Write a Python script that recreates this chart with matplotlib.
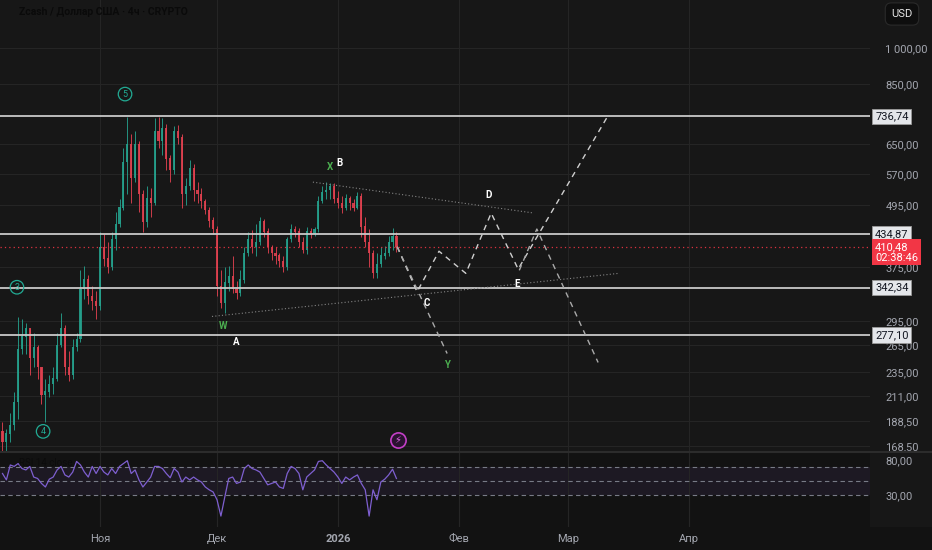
import numpy as np
import pandas as pd
import matplotlib
matplotlib.use('Agg')
import matplotlib.pyplot as plt
import matplotlib.dates as mdates
import matplotlib.transforms as mtransforms
from matplotlib.ticker import FuncFormatter, NullLocator, NullFormatter
from matplotlib.lines import Line2D

plt.rcParams['font.family'] = ['Roboto', 'DejaVu Sans', 'Noto Sans CJK SC']

# ---- data (daily candles, ZEC/USD) ----
first_day = '2025-10-07'
first_open = 180
closes = [172, 178, 185, 205, 260, 275, 285, 250, 262, 240,
          212, 215, 222, 228, 265, 285, 240, 232, 262, 272,
          340, 355, 330, 322, 315, 410, 390, 375, 425, 455,
          490, 600, 650, 560, 650, 520, 460, 510, 500, 690,
          660, 700, 610, 580, 690, 670, 520, 540, 585, 530,
          520, 505, 485, 462, 445, 345, 320, 350, 360, 340,
          335, 355, 400, 425, 410, 420, 460, 440, 410, 400,
          395, 385, 375, 425, 445, 440, 420, 405, 440, 435,
          445, 505, 525, 530, 540, 510, 500, 490, 510, 500,
          490, 515, 450, 420, 400, 365, 380, 395, 400, 420,
          430, 410.48]
highs = [188, 182, 195, 215, 300, 298, 292, 285, 280, 265,
         240, 228, 232, 240, 280, 305, 290, 258, 272, 280,
         370, 378, 362, 345, 338, 440, 435, 420, 440, 480,
         510, 640, 736, 680, 690, 660, 530, 540, 535, 730,
         735, 730, 712, 620, 705, 710, 680, 560, 605, 595,
         550, 535, 510, 492, 470, 452, 370, 375, 378, 395,
         352, 370, 410, 440, 443, 455, 470, 466, 448, 415,
         410, 400, 395, 430, 455, 452, 448, 430, 450, 448,
         450, 515, 540, 550, 548, 546, 528, 515, 520, 515,
         508, 525, 522, 470, 445, 405, 400, 410, 412, 432,
         448, 440]
lows = [163, 165, 172, 181, 190, 255, 255, 232, 240, 228,
        203, 188, 210, 213, 225, 262, 232, 225, 228, 258,
        268, 325, 318, 310, 298, 310, 378, 365, 370, 405,
        450, 485, 520, 500, 550, 480, 440, 450, 470, 495,
        640, 620, 580, 550, 570, 650, 490, 495, 530, 505,
        500, 490, 475, 450, 435, 330, 312, 305, 338, 335,
        325, 330, 350, 395, 400, 395, 415, 430, 400, 388,
        380, 375, 368, 370, 420, 430, 410, 400, 398, 428,
        432, 440, 500, 510, 508, 500, 488, 478, 484, 485,
        482, 486, 430, 410, 375, 357, 358, 375, 390, 395,
        405, 402]
rsi = [61, 52, 73, 71, 75, 68, 66, 71, 56, 54,
       47, 42, 53, 56, 66, 71, 59, 56, 63, 78,
       73, 63, 56, 71, 61, 71, 63, 59, 68, 61,
       71, 75, 79, 61, 66, 52, 42, 49, 56, 71,
       71, 68, 61, 55, 68, 63, 49, 56, 52, 56,
       52, 49, 42, 38, 35, 24, 1, 28, 54, 56,
       47, 49, 68, 73, 68, 66, 63, 54, 45, 47,
       49, 42, 40, 61, 71, 68, 61, 38, 56, 61,
       66, 78, 79, 73, 68, 63, 56, 47, 56, 52,
       56, 59, 47, 38, 1, 38, 24, 49, 53, 59,
       67, 54]

current_price = 410.48
current_timer = '02:38:46'
levels = [736.74, 434.87, 342.34, 277.10]
price_ticks = [168.5, 188.5, 211, 235, 265, 295, 375, 495, 570, 650, 850, 1000]
rsi_ticks = [30, 80]
rsi_bands = [70, 50, 30]

month_ticks = ['2025-11-01', '2025-12-01', '2026-01-01', '2026-02-01', '2026-03-01', '2026-04-01']
month_labels = ['Ноя', 'Дек', '2026', 'Фев', 'Мар', 'Апр']

# projected wave paths (drawn by hand on the chart)
path_main_dates = ['2026-01-16 05:00', '2026-01-21 07:00', '2026-01-26 22:00', '2026-02-02 19:00',
                   '2026-02-09 07:00', '2026-02-16 05:00', '2026-03-11 07:00']
path_main_prices = [411, 336, 403, 365, 478, 372, 740]
path_y_dates = ['2026-01-16 05:00', '2026-01-29 00:00']
path_y_prices = [411, 255]
path_alt_dates = ['2026-02-16 12:00', '2026-02-21 00:00', '2026-03-08 17:00']
path_alt_prices = [370, 445, 245]

trend_low_dates = ['2025-11-29 17:00', '2026-03-14 00:00']
trend_low_prices = [301, 365]
trend_high_dates = ['2025-12-25 14:00', '2026-02-20 07:00']
trend_high_prices = [549, 478]

circle_labels = ['5', '3', '4']
circle_dates = ['2025-11-07 10:00', '2025-10-10 17:00', '2025-10-17 10:00']
circle_prices = [814, 343, 180]

wave_labels = ['W', 'A', 'X', 'B', 'C', 'Y', 'D', 'E']
wave_dates = ['2025-12-02 12:00', '2025-12-05 22:00', '2025-12-30 00:00', '2026-01-01 07:00',
              '2026-01-23 19:00', '2026-01-29 00:00', '2026-02-08 12:00', '2026-02-15 22:00']
wave_prices = [288, 269, 587, 597, 319, 242, 518, 348]
wave_colors = ['#4caf50', 'white', '#4caf50', 'white', 'white', '#4caf50', 'white', 'white']

event_date = '2026-01-16 10:00'
event_price = 173


def dn(vals):
    return mdates.date2num(pd.to_datetime(vals).values)


BG = '#171717'
GRID = '#252525'
TXT = '#a3a6af'
UP = '#25a08c'
DOWN = '#e0414f'

fig = plt.figure(figsize=(9.32, 5.5), dpi=100, facecolor=BG)
W, H = 932, 550
ax = fig.add_axes([0, 1 - 453 / H, 870 / W, 453 / H], facecolor=BG)
rax = fig.add_axes([0, 1 - 527 / H, 870 / W, 74 / H], facecolor='#121212', sharex=ax)

# ---- candles ----
dates = pd.date_range(first_day, periods=len(closes), freq='D')
x = mdates.date2num(dates.values)
opens = [first_open] + closes[:-1]
o = np.array(opens, float)
c = np.array(closes, float)
up = c >= o
cols = np.where(up, UP, DOWN)
ax.vlines(x, lows, highs, colors=cols, lw=0.7, alpha=0.9, zorder=3)
ax.bar(x, np.abs(c - o) + 0.5, bottom=np.minimum(o, c), width=0.55, color=cols,
       alpha=0.9, linewidth=0, zorder=3)

ax.set_yscale('log')
ax.set_ylim(163.4, 1240)
ax.set_xlim(mdates.date2num(pd.Timestamp('2025-10-06 08:40')),
            mdates.date2num(pd.Timestamp('2026-05-17 10:00')))

for lv in levels:
    ax.axhline(lv, color='#c9c9c9', lw=1.3, zorder=4)
ax.axhline(current_price, color='#f23645', lw=0.9, ls=(0, (1, 2.5)), alpha=0.9, zorder=4)

ax.plot(dn(trend_low_dates), trend_low_prices, color='#858585', lw=0.8, ls=(0, (1, 2)), zorder=5)
ax.plot(dn(trend_high_dates), trend_high_prices, color='#858585', lw=0.8, ls=(0, (1, 2)), zorder=5)
ax.plot(dn(path_main_dates), path_main_prices, color='#cfcfcf', lw=1.0, ls=(0, (4, 3.5)), zorder=5)
ax.plot(dn(path_y_dates), path_y_prices, color='#aaaaaa', lw=1.0, ls=(0, (4, 3.5)), zorder=5)
ax.plot(dn(path_alt_dates), path_alt_prices, color='#aaaaaa', lw=1.0, ls=(0, (4, 3.5)), zorder=5)

for lab, d, p in zip(circle_labels, dn(circle_dates), circle_prices):
    ax.text(d, p, lab, color='#22ab94', fontsize=6.5, ha='center', va='center', zorder=6,
            bbox=dict(boxstyle='circle,pad=0.25', fc='none', ec='#22ab94', lw=0.9))
for lab, d, p, col in zip(wave_labels, dn(wave_dates), wave_prices, wave_colors):
    ax.text(d, p, lab, color=col, fontsize=7, fontweight='bold', ha='center', va='center', zorder=6)

ev = dn([event_date])[0]
ax.scatter([ev], [event_price], s=120, facecolors='#2a1230', edgecolors='#c33fc7', lw=1.2, zorder=6)
ax.text(ev, event_price, '⚡', color='#e066e6', fontsize=7, ha='center', va='center', zorder=7,
        family=['DejaVu Sans', 'Noto Sans CJK SC'])

# price axis
ax.yaxis.tick_right()
ax.yaxis.set_minor_locator(NullLocator())
ax.yaxis.set_minor_formatter(NullFormatter())
ax.set_yticks(price_ticks)
ax.yaxis.set_major_formatter(FuncFormatter(
    lambda v, _: f'{v:,.2f}'.replace(',', ' ').replace('.', ',')))
ax.tick_params(axis='y', length=0, pad=11, labelsize=8, labelcolor=TXT)
ax.tick_params(axis='x', length=0, labelbottom=False)
ax.grid(True, axis='y', color=GRID, lw=0.8)
ax.grid(True, axis='x', color=GRID, lw=0.8)
for s in ax.spines.values():
    s.set_visible(False)

btr = mtransforms.blended_transform_factory(ax.transAxes, ax.transData)
for lv in levels:
    ax.text(1.006, lv, f'{lv:.2f}'.replace('.', ','), transform=btr, ha='left', va='center',
            fontsize=8, color='#131722', clip_on=False, zorder=8,
            bbox=dict(boxstyle='square,pad=0.25', fc='#e4e6ea', ec='#9a9a9a', lw=0.6))
ax.text(1.006, 401, f'{current_price:.2f}'.replace('.', ',') + '\n' + current_timer,
        transform=btr, ha='left', va='center', fontsize=8, color='white', linespacing=1.05,
        clip_on=False, zorder=9,
        bbox=dict(boxstyle='square,pad=0.25', fc='#f23645', ec='none'))

# ---- RSI pane ----
rax.axhspan(rsi_bands[-1], rsi_bands[0], color='#7e57c2', alpha=0.1, lw=0)
for b in rsi_bands:
    rax.axhline(b, color='#787b86', lw=0.8, ls=(0, (4, 3)))
rax.plot(x, rsi, color='#7e5fd0', lw=0.9)
rax.set_ylim(-14.4, 89.9)
rax.yaxis.tick_right()
rax.set_yticks(rsi_ticks)
rax.yaxis.set_major_formatter(FuncFormatter(lambda v, _: f'{v:.2f}'.replace('.', ',')))
rax.tick_params(axis='y', length=0, pad=11, labelsize=8, labelcolor=TXT)
rax.set_xticks(dn(month_ticks))
rax.set_xticklabels(month_labels)
rax.tick_params(axis='x', length=0, pad=5, labelsize=8, labelcolor=TXT)
for t in rax.get_xticklabels():
    if t.get_text() == '2026':
        t.set_fontweight('bold')
rax.grid(True, axis='x', color=GRID, lw=0.8)
for s in rax.spines.values():
    s.set_visible(False)
rax.text(0.022, 0.86, 'RSI 14 close', transform=rax.transAxes, fontsize=7,
         color='#0c0c0c', va='center')

fig.add_artist(Line2D([0, 1], [1 - 452 / H, 1 - 452 / H], transform=fig.transFigure,
                      color='#2c2c2c', lw=1.5))
fig.patches.append(plt.Rectangle((0, 0), 1, 1 - 527 / H, transform=fig.transFigure,
                                 fc='#121212', ec='none', zorder=-1))

fig.text(19 / W, 1 - 12 / H, 'Zcash / Доллар США · 4ч · CRYPTO', fontsize=7.5,
         fontweight='bold', color='#0a0a0a', va='center')
fig.text(902 / W, 1 - 14 / H, 'USD', ha='center', va='center', fontsize=8, color='#e6e6e6',
         bbox=dict(boxstyle='round,pad=0.55', fc='#0e0e0e', ec='#2a2a2a', lw=0.8))

fig.savefig('out.png', dpi=100, facecolor=BG)
